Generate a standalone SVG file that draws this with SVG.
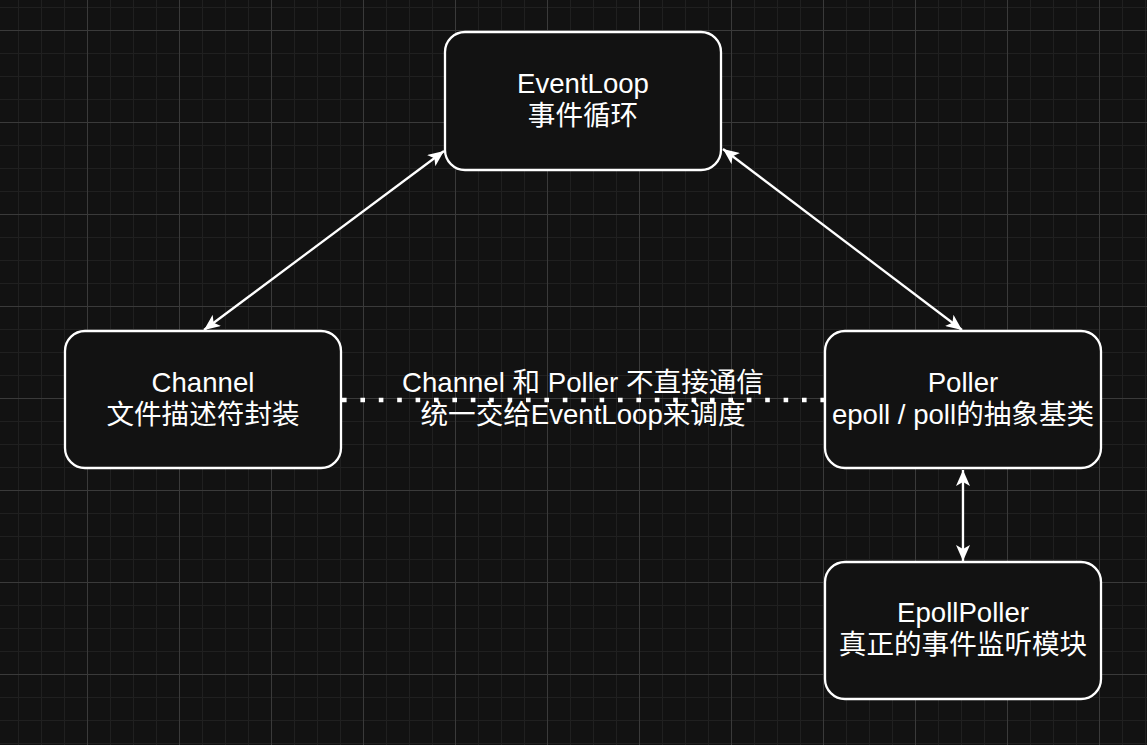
<svg xmlns="http://www.w3.org/2000/svg" width="1147" height="745" viewBox="0 0 1147 745">
<defs>
<pattern id="grid" patternUnits="userSpaceOnUse" x="87" y="30" width="92" height="92">
<path d="M23.5,0V92M46.5,0V92M69.5,0V92M0,23.5H92M0,46.5H92M0,69.5H92" stroke="#202020" stroke-width="1" fill="none"/>
<path d="M0.5,0V92M0,0.5H92" stroke="#3a3a3a" stroke-width="1" fill="none"/>
</pattern>
<marker id="arr" viewBox="0 0 16 14" refX="16" refY="7" markerWidth="16" markerHeight="14" markerUnits="userSpaceOnUse" orient="auto-start-reverse">
<path d="M0,0 L16,7 L0,14 L4,7 Z" fill="#ffffff"/>
</marker>
<style>
.box{fill:#121212;stroke:#ffffff;stroke-width:2.3}
.t{font-family:"Liberation Sans","Noto Sans CJK SC",sans-serif;font-size:27.6px;fill:#ffffff;text-anchor:middle}
.edge{stroke:#ffffff;stroke-width:2.3;fill:none}
</style>
</defs>
<rect width="1147" height="745" fill="#121212"/>
<rect width="1147" height="745" fill="url(#grid)"/>
<g id="connectors">
<line class="edge" x1="204" y1="330" x2="444" y2="151" marker-start="url(#arr)" marker-end="url(#arr)"/>
<line class="edge" x1="723" y1="149" x2="962" y2="330" marker-start="url(#arr)" marker-end="url(#arr)"/>
<line class="edge" x1="963" y1="470" x2="963" y2="561" marker-start="url(#arr)" marker-end="url(#arr)"/>
<line x1="342" y1="400" x2="824" y2="400" stroke="#ffffff" stroke-width="4.6" stroke-dasharray="4.6 13.8"/>
<text class="t" x="583" y="392">Channel 和 Poller 不直接通信</text>
<text class="t" x="583" y="424">统一交给EventLoop来调度</text>
</g>
<g id="eventloop">
<rect class="box" x="445" y="32" width="276" height="138" rx="20" ry="20"/>
<text class="t" x="583" y="92.5">EventLoop</text>
<text class="t" x="583" y="124.5">事件循环</text>
</g>
<g id="channel">
<rect class="box" x="65" y="331" width="276" height="137" rx="20" ry="20"/>
<text class="t" x="203" y="391.5">Channel</text>
<text class="t" x="203" y="423.5">文件描述符封装</text>
</g>
<g id="poller">
<rect class="box" x="825" y="331" width="276" height="137" rx="20" ry="20"/>
<text class="t" x="963" y="391.5">Poller</text>
<text class="t" x="963" y="423.5">epoll / poll的抽象基类</text>
</g>
<g id="epollpoller">
<rect class="box" x="825" y="562" width="276" height="137" rx="20" ry="20"/>
<text class="t" x="963" y="622">EpollPoller</text>
<text class="t" x="963" y="654">真正的事件监听模块</text>
</g>
</svg>
